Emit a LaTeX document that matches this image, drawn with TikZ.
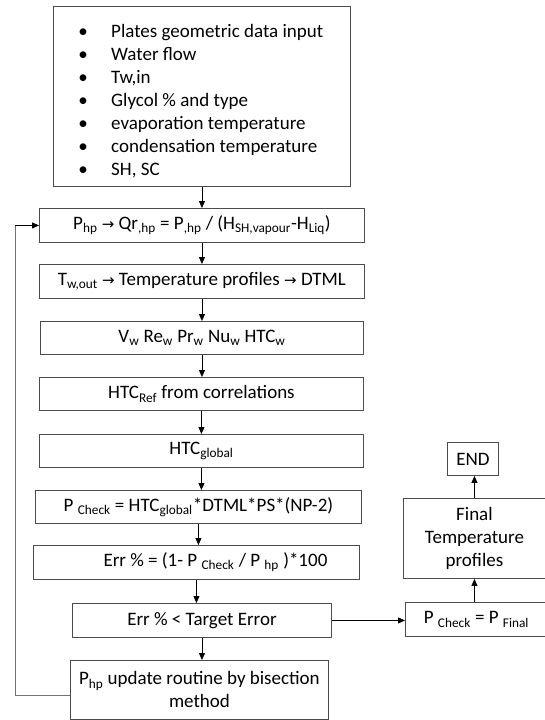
\documentclass[tikz,border=0pt]{standalone}
\usepackage{fontspec}
\setmainfont{Carlito}
\newfontfamily\symfont{DejaVu Sans}
\usetikzlibrary{arrows.meta}
\newcommand{\ra}{{\symfont\fontsize{15}{15}\selectfont →}}
\newcommand{\sbs}[1]{\textsubscript{#1}}
\begin{document}
\begin{tikzpicture}[x=1pt,y=-1pt,
  font=\fontsize{19}{23}\selectfont,
  box/.style={draw=black!70, line width=0.9pt, inner sep=0pt, anchor=north west},
  arr/.style={-{Triangle[length=7pt,width=6pt]}, line width=0.8pt, draw=black}]
\useasboundingbox (0,0) rectangle (545,720);
\node[box, minimum width=297, minimum height=180] (b1) at (53,6) {};
\foreach \t [count=\i] in {Plates geometric data input, Water flow, {Tw,in}, Glycol \% and type, evaporation temperature, condensation temperature, {SH, SC}} {
  \node[anchor=base, inner sep=0pt] (bu\i) at (83,14+23*\i) {•};
  \node[anchor=base west, inner sep=0pt] (l\i) at (111,14+23*\i) {\t};
}
\node[box, minimum width=325, minimum height=34] (b2) at (39,208) {P\sbs{hp} \ra{} Qr\sbs{,hp} = P\sbs{,hp} / (H\sbs{SH,vapour}-H\sbs{Liq})};
\node[box, minimum width=325, minimum height=34] (b3) at (39,264) {T\sbs{w,out} \ra{} Temperature profiles \ra{} DTML};
\node[box, minimum width=323, minimum height=33] (b4) at (40,321) {V\sbs{w} Re\sbs{w} Pr\sbs{w} Nu\sbs{w} HTC\sbs{w}};
\node[box, minimum width=324, minimum height=33] (b5) at (39,377) {HTC\sbs{Ref} from correlations};
\node[box, minimum width=324, minimum height=33] (b6) at (39,434) {HTC\sbs{global}};
\node[box, minimum width=326, minimum height=33] (b7) at (35,490) {P \sbs{Check} = HTC\sbs{global}*DTML*PS*(NP-2)};
\node[box, minimum width=326, minimum height=34] (b8) at (33,545) {};
\node (t8) at ([xshift=19pt]b8.center) {Err \% = (1- P \sbs{Check} / P \sbs{hp} )*100};
\node[box, minimum width=259, minimum height=34] (b9) at (72,603) {Err \% < Target Error};
\node[box, minimum width=258, minimum height=59, align=center] (b10) at (70,660) {P\sbs{hp} update routine by bisection\\method};
\node[box, minimum width=142, minimum height=34] (b11) at (405,602) {P \sbs{Check} = P \sbs{Final}};
\node[box, minimum width=142, minimum height=80, align=center] (b12) at (403,498) {Final\\Temperature\\profiles};
\node[box, minimum width=51, minimum height=33] (b13) at (447,442) {END};
\foreach \a/\b in {b1/b2, b2/b3, b3/b4, b4/b5, b5/b6, b6/b7, b7/b8, b8/b9, b9/b10} {
  \draw[arr] (\a.south) -- (\a.south |- \b.north);
}
\draw[arr] (b9.east) -- (b9.east -| b11.west);
\draw[arr] (b12.south |- b11.north) -- (b12.south);
\draw[arr] (b12.north) -- (b12.north |- b13.south);
\coordinate (c1) at (15,695);
\draw[line width=0.8pt, black!55] (b10.west |- c1) -- (c1) -- (c1 |- b2.west);
\draw[arr] (c1 |- b2.west) -- (b2.west);
\end{tikzpicture}
\end{document}
